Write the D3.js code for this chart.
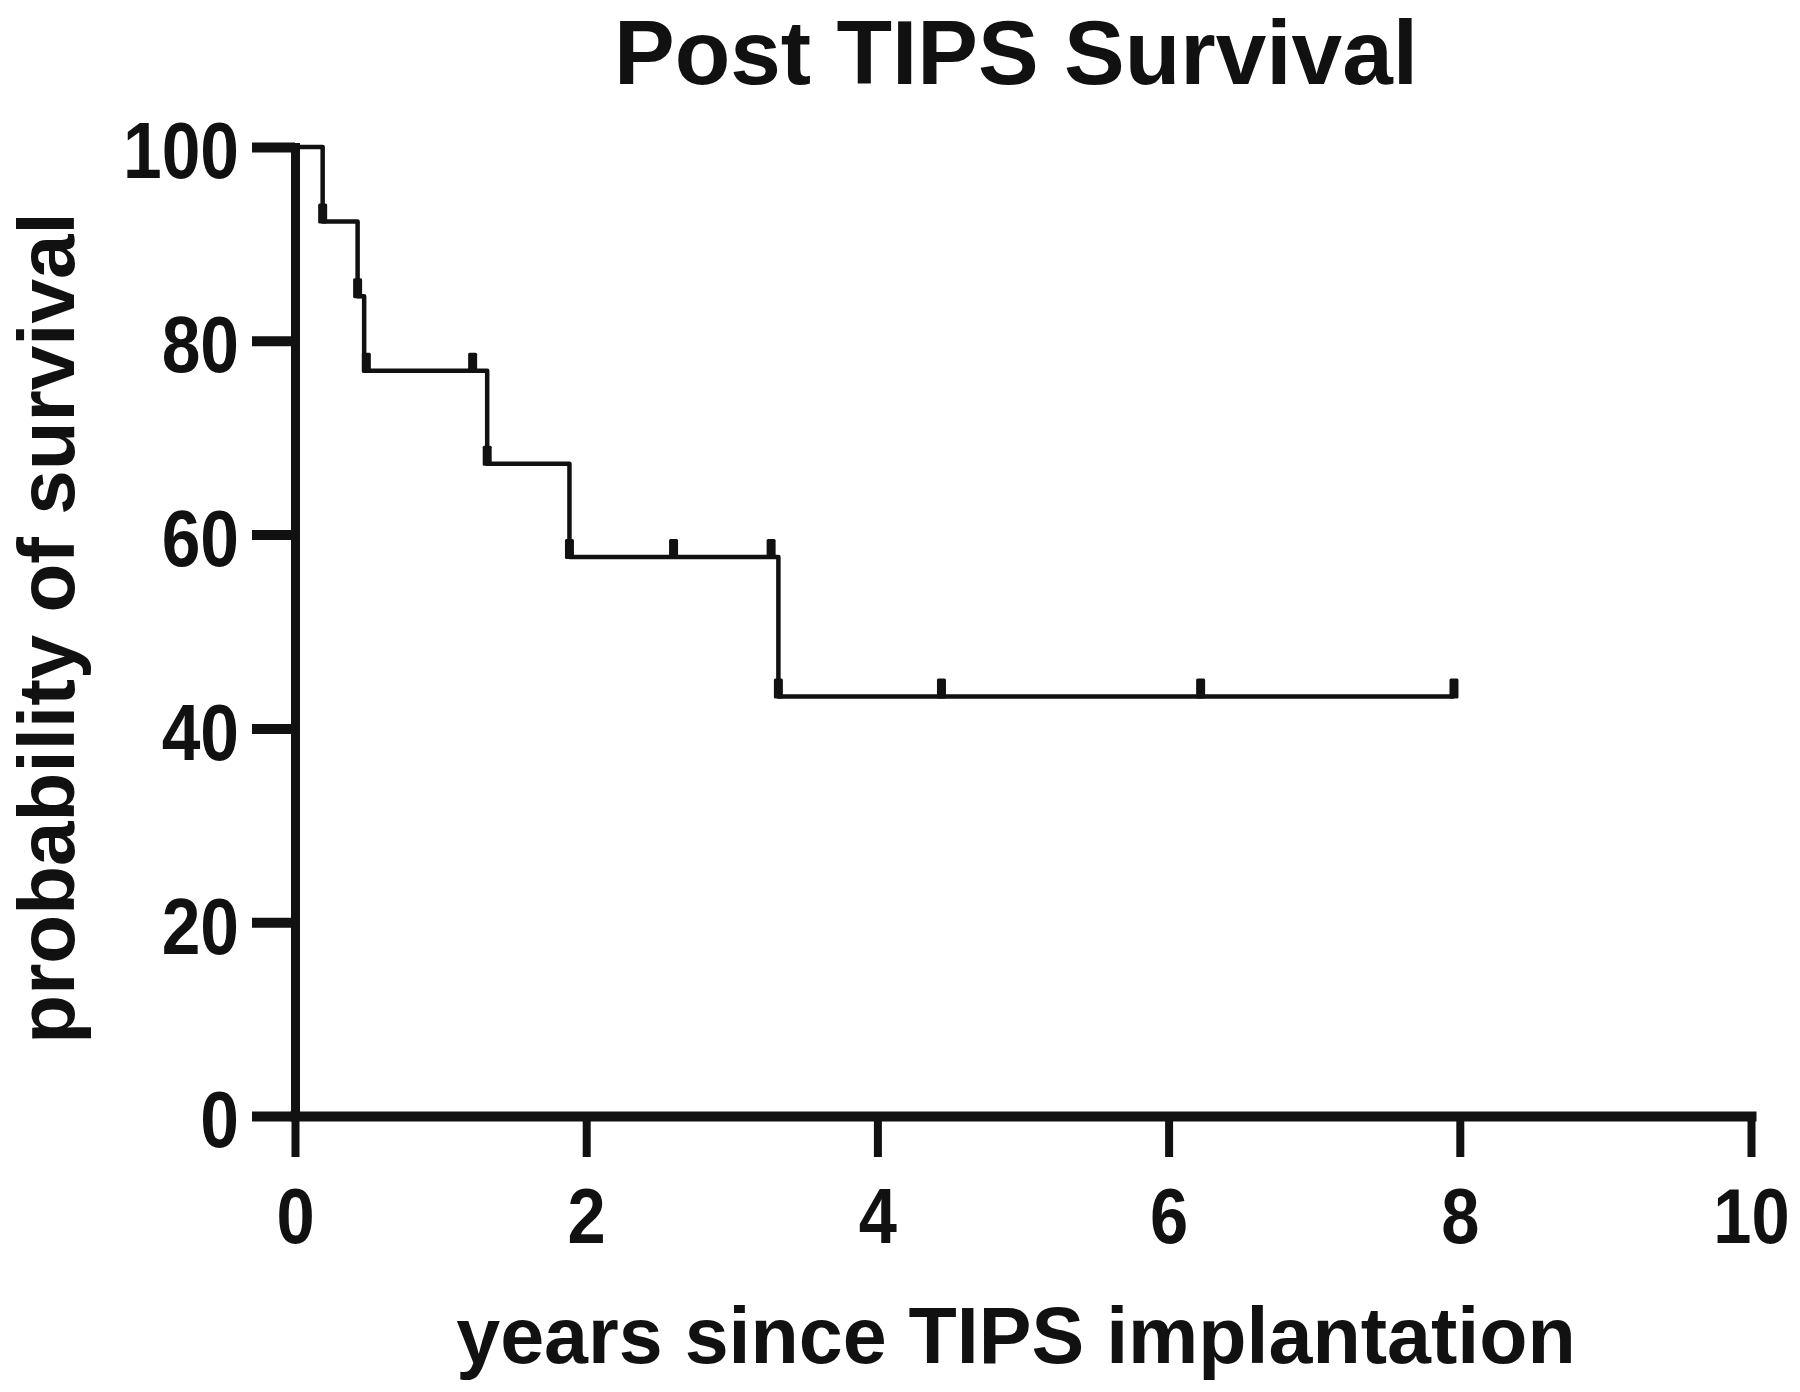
<!DOCTYPE html>
<html>
<head>
<meta charset="utf-8">
<script src="https://cdn.jsdelivr.net/npm/d3@7"></script>
<style>
  body { margin: 0; background: #fff; }
  text { font-family: 'Liberation Sans', Arial, sans-serif; font-weight: bold; fill: #111; }
</style>
</head>
<body>
<script>
// survival steps (years, % surviving after the drop)
var stepTimes = [0, 0.19, 0.43, 0.475, 1.32, 1.885, 3.32];
var stepSurvival = [100, 92.3, 84.6, 76.9, 67.3, 57.7, 43.3];
var lastFollowUp = 7.96;

// censored patients (years)
var censorTimes = [0.19, 0.43, 0.49, 1.22, 1.32, 1.885, 2.6, 3.27, 3.32, 4.44, 6.22, 7.96];

var xTicks = [0, 2, 4, 6, 8, 10];
var yTicks = [0, 20, 40, 60, 80, 100];

var svg = d3.select('body').append('svg')
  .attr('width', 1800)
  .attr('height', 1392);

var x = d3.scaleLinear().domain([0, 10]).range([295, 1751]);
var y = d3.scaleLinear().domain([0, 100]).range([1116, 147]);

// tick labels are a bit narrower than Arial bold
var squeeze = 0.88;

function survivalAt(t) {
  var s = stepSurvival[0];
  for (var i = 0; i < stepTimes.length; i++) {
    if (stepTimes[i] <= t) s = stepSurvival[i];
  }
  return s;
}

// title
svg.append('text')
  .attr('x', 1016)
  .attr('y', 84)
  .style('text-anchor', 'middle')
  .style('font-size', '91px')
  .text('Post TIPS Survival');

// y axis
var yAxis = svg.append('g')
  .attr('transform', 'translate(' + x(0) + ',0)')
  .call(d3.axisLeft(y).tickValues(yTicks).tickSize(43).tickSizeOuter(0).tickPadding(13));

yAxis.select('.domain')
  .style('stroke', '#111')
  .style('stroke-width', 9)
  .style('stroke-linecap', 'square');
yAxis.selectAll('.tick line')
  .style('stroke', '#111')
  .style('stroke-width', 10);
yAxis.selectAll('.tick text')
  .attr('x', -56 / squeeze)
  .attr('dy', '0.39em')
  .attr('transform', 'scale(' + squeeze + ',1)')
  .style('font-size', '79px')
  .style('fill', '#111');

// x axis
var xAxis = svg.append('g')
  .attr('transform', 'translate(0,' + y(0) + ')')
  .call(d3.axisBottom(x).tickValues(xTicks).tickSize(41).tickSizeOuter(0).tickPadding(31));

xAxis.select('.domain')
  .style('stroke', '#111')
  .style('stroke-width', 10)
  .style('stroke-linecap', 'square');
xAxis.selectAll('.tick line')
  .style('stroke', '#111')
  .style('stroke-width', 8);
xAxis.selectAll('.tick text')
  .attr('transform', 'scale(' + squeeze + ',1)')
  .style('font-size', '78px')
  .style('fill', '#111');

// axis titles
svg.append('text')
  .attr('x', 1016)
  .attr('y', 1363)
  .style('text-anchor', 'middle')
  .style('font-size', '79px')
  .text('years since TIPS implantation');

svg.append('text')
  .attr('transform', 'translate(74,628) rotate(-90)')
  .style('text-anchor', 'middle')
  .style('font-size', '80px')
  .text('probability of survival');

// Kaplan-Meier step line
var points = [];
for (var i = 0; i < stepTimes.length; i++) {
  if (i > 0) points.push([stepTimes[i], stepSurvival[i - 1]]);
  points.push([stepTimes[i], stepSurvival[i]]);
}
points.push([lastFollowUp, stepSurvival[stepSurvival.length - 1]]);

var line = d3.line()
  .x(function(d) { return x(d[0]); })
  .y(function(d) { return y(d[1]); });

svg.append('path')
  .datum(points)
  .attr('d', line)
  .style('fill', 'none')
  .style('stroke', '#111')
  .style('stroke-width', 4.5)
  .style('stroke-linejoin', 'round');

// censor marks
svg.selectAll('.censor')
  .data(censorTimes)
  .enter().append('rect')
  .attr('class', 'censor')
  .attr('x', function(d) { return x(d) - 4.5; })
  .attr('y', function(d) { return y(survivalAt(d)) - 18; })
  .attr('width', 9)
  .attr('height', 20)
  .attr('rx', 1.5)
  .style('fill', '#111');
</script>
</body>
</html>
